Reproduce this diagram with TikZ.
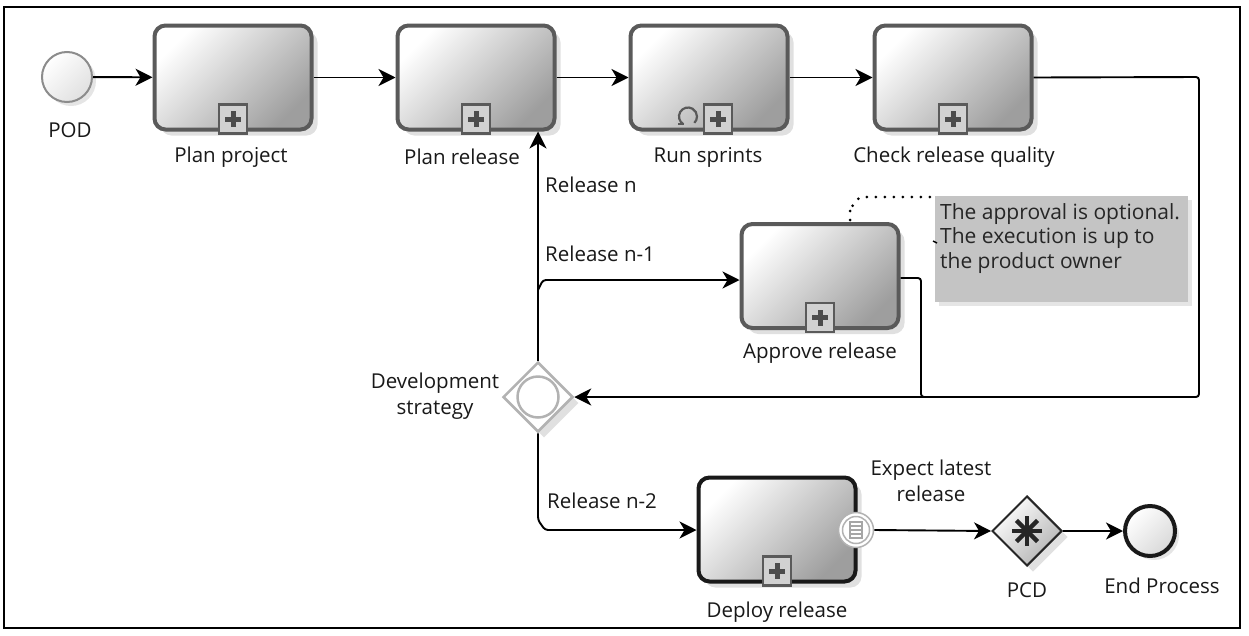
\documentclass[tikz,border=0pt]{standalone}
\usepackage{fontspec}
\setmainfont{Open Sans}
\usetikzlibrary{arrows.meta,shapes.geometric,calc,shadows}
\definecolor{taskborder}{HTML}{5A5A5A}
\definecolor{notegray}{HTML}{C4C4C4}
\tikzset{
  task/.style={draw=taskborder, line width=4pt, rounded corners=11pt,
    minimum width=157pt, minimum height=104pt, inner sep=0pt,
    top color=white, bottom color=black!38, shading angle=45,
    drop shadow={opacity=0.12, shadow xshift=6pt, shadow yshift=-6pt, fill=black}},
  deploytask/.style={task, draw=black!90},
  lbl/.style={font=\fontsize{20.5}{26}\selectfont, text=black!90, align=center, inner sep=0pt},
  flow/.style={draw=black, line width=1.9pt, rounded corners=3pt,
    -{Stealth[length=17pt,width=17pt,inset=5pt]}},
  plainflow/.style={draw=black, line width=1.9pt, rounded corners=3pt},
  gw/.style={diamond, minimum width=70pt, minimum height=70pt, inner sep=0pt},
}
\newcommand\SubMark[1]{%
  \draw[taskborder, line width=2.5pt, fill=black!18] ($(#1)+(-14,2)$) rectangle ($(#1)+(14,-27)$);
  \fill[black!70] ($(#1)+(-8,-10)$) rectangle ($(#1)+(8,-15)$);
  \fill[black!70] ($(#1)+(-2.5,-4.5)$) rectangle ($(#1)+(2.5,-20.5)$);
}
\begin{document}
\begin{tikzpicture}[x=1pt,y=-1pt]
\useasboundingbox (0,0) rectangle (1249,635);
\fill[white] (0,0) rectangle (1249,635);
\draw[black, line width=2pt] (4,7) rectangle (1240,628);

% start event
\node[circle, draw=black!45, line width=2pt, minimum size=50pt, inner sep=0pt,
  top color=white, bottom color=black!12, shading angle=45,
  drop shadow={opacity=0.1, shadow xshift=4pt, shadow yshift=-4pt, fill=black}] (pod) at (67,77) {};
\node[lbl] (podl) at (70,130) {POD};

% tasks
\node[task] (pp) at (233,77.5) {};
\node[task] (pr) at (476,77.5) {};
\node[task] (rs) at (709,77.5) {};
\node[task] (cq) at (953,77.5) {};
\node[task] (ar) at (820,276) {};
\node[deploytask] (dr) at (777,529.5) {};

\SubMark{pp.south}
\SubMark{pr.south}
\SubMark{cq.south}
\SubMark{ar.south}
\SubMark{dr.south}
% run sprints: loop + sub marker shifted
\coordinate (rsm) at ($(rs.south)+(9,0)$);
\SubMark{rsm}
\coordinate (loopc) at ($(rsm)+(-30,-15)$);
\draw[black!65, line width=2.2pt] ($(loopc)+(120:9)$) arc[start angle=120, end angle=405, radius=9];
\draw[black!65, line width=2.2pt] ($(loopc)+(120:9)$) -- ++(-6,0);

\node[lbl] (ppl) at (231,157) {Plan project};
\node[lbl] (prl) at (462,157) {Plan release};
\node[lbl] (rsl) at (708,157) {Run sprints};
\node[lbl] (cql) at (954,157) {Check release quality};
\node[lbl] (arl) at (820,353) {Approve release};
\node[lbl] (drl) at (777,612) {Deploy release};

% development strategy gateway
\node[gw, draw=black!30, line width=2.5pt, fill=white,
  drop shadow={opacity=0.12, shadow xshift=6pt, shadow yshift=-6pt, fill=black}] (ds) at (538,397) {};
\node[circle, draw=black!30, line width=2.5pt, minimum size=41pt, inner sep=0pt] (dsc) at (ds.center) {};
\node[lbl] (dsl) at (435,396) {Development\\strategy};

% PCD gateway
\node[gw, draw=black!85, line width=2pt, top color=white, bottom color=black!30, shading angle=45,
  drop shadow={opacity=0.12, shadow xshift=6pt, shadow yshift=-6pt, fill=black}] (pcd) at (1027,531) {};
\foreach \a in {0,45,90,135} {
  \draw[black!85, line width=4.5pt] ($(pcd.center)+(\a:15)$) -- ($(pcd.center)+(\a+180:15)$);
}
\node[lbl] (pcdl) at (1027,590) {PCD};

% end event
\node[circle, draw=black!90, line width=4pt, minimum size=50pt, inner sep=0pt,
  top color=white, bottom color=black!15, shading angle=45,
  drop shadow={opacity=0.1, shadow xshift=4pt, shadow yshift=-4pt, fill=black}] (endev) at (1150,531) {};
\node[lbl] (endl) at (1162,586) {End Process};

% boundary conditional event
\node[circle, draw=black!30, line width=1.5pt, fill=white, minimum size=35pt, inner sep=0pt] (be) at (856,530) {};
\node[circle, draw=black!30, line width=1.5pt, minimum size=27pt, inner sep=0pt] (bei) at (be.center) {};
\draw[black!35, line width=1.2pt] ($(be.center)+(-6,-8)$) rectangle ($(be.center)+(6,8)$);
\foreach \yy in {-4,0,4} {\draw[black!35, line width=1.2pt] ($(be.center)+(-6,\yy)$) -- ($(be.center)+(6,\yy)$);}

% annotation
\node[fill=notegray, minimum width=253pt, minimum height=106pt, inner sep=0pt,
  drop shadow={opacity=0.1, shadow xshift=4pt, shadow yshift=-4pt, fill=black}] (note) at (1061,249) {};
\node[font=\fontsize{21}{24.5}\selectfont, align=left, anchor=north west, text=black!85, inner sep=0pt] (notet) at (940,203)
  {The approval is optional.\\The execution is up to\\the product owner};
\draw[black, line width=3pt, dash pattern=on 0pt off 9pt, line cap=round] (850,220) -- (850,207) to[out=-90,in=180] (862,197) -- (930,197);
\draw[black, line width=1.5pt] (933,241) -- (937,243);

% flows
\draw[flow] (pod) -- (pp);
\draw[flow] (pp) -- (pr);
\draw[flow] (pr) -- (rs);
\draw[flow] (rs) -- (cq);
\draw[flow] (cq.east) -- (1199,77) -- (1199,397) -- (ds.east);
\draw[plainflow] (ar.east |- 0,278) -- (921,278) -- (921,397) -- (990,397);
\draw[flow] (ds.north) -- (ds.north |- pr.south);
\coordinate (br1) at (538,290);
\draw[flow] (br1) -- (543,280) -- (ar.west |- 0,280);
\draw[flow] (ds.south) -- (538,520) -- (545,530) -- (dr.west |- 0,530);
\draw[flow] (be.east) -- (pcd.west);
\draw[flow] (pcd.east) -- (endev.west);

% flow labels
\node[lbl, anchor=west] (lrn) at (545,185) {Release n};
\node[lbl, anchor=west] (lrn1) at (545,254) {Release n-1};
\node[lbl, anchor=west] (lrn2) at (547,501) {Release n-2};
\node[lbl] (lexp) at (931,481) {Expect latest\\release};
\end{tikzpicture}
\end{document}
